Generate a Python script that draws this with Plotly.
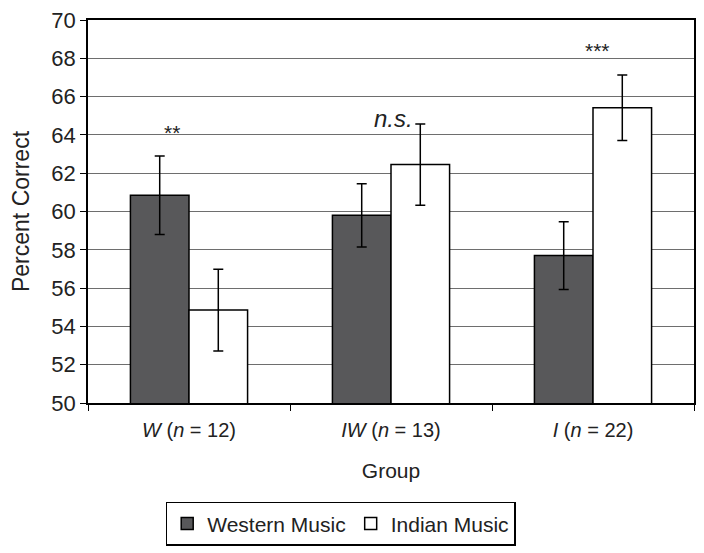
import plotly.graph_objects as go

groups = ['<i>W</i> (<i>n</i> = 12)', '<i>IW</i> (<i>n</i> = 13)', '<i>I</i> (<i>n</i> = 22)']
western = [60.85, 59.8, 57.7]
western_err = [2.05, 1.65, 1.77]
indian = [54.85, 62.45, 65.42]
indian_err = [2.13, 2.12, 1.71]
sig_labels = ['**', '<i>n.s.</i>', '***']
sig_y = [64.1, 64.85, 68.4]
sig_x_shift = [-17, 2, 4]   # nudges in px relative to group centre

font = 'Liberation Sans, Arial, sans-serif'

fig = go.Figure()
fig.add_trace(go.Bar(x=groups, y=western, name='Western Music',
                     marker=dict(color='#58585a', line=dict(color='black', width=1.5)),
                     error_y=dict(type='data', array=western_err, color='black', thickness=1.5, width=5)))
fig.add_trace(go.Bar(x=groups, y=indian, name='Indian Music',
                     marker=dict(color='white', line=dict(color='black', width=1.5)),
                     error_y=dict(type='data', array=indian_err, color='black', thickness=1.5, width=5)))

for g, lab, yy, sx in zip(groups, sig_labels, sig_y, sig_x_shift):
    fig.add_annotation(x=g, y=yy, text=lab, showarrow=False, xshift=sx,
                       font=dict(size=21 if '*' in lab else 24, color='#222'))

# page body adds 8px offset, so margins are trimmed to compensate
fig.update_layout(
    width=704, height=553,
    margin=dict(l=80, r=18, t=12, b=158),
    barmode='group', bargap=0.42, bargroupgap=0,
    plot_bgcolor='white', paper_bgcolor='white',
    font=dict(family=font, size=20, color='#222'),
    showlegend=True,
    legend=dict(orientation='h', x=0.417, xanchor='center', y=-0.258, yanchor='top',
                bordercolor='black', borderwidth=1.5, font=dict(size=21),
                itemwidth=30, traceorder='normal'),
)
fig.update_xaxes(showline=True, linecolor='black', linewidth=1.5, mirror=True, automargin=False,
                 ticks='outside', tickson='boundaries', ticklen=6, tickcolor='black',
                 ticklabelstandoff=8,
                 title=dict(text='Group', font=dict(size=21), standoff=24))
fig.update_yaxes(range=[50, 70], dtick=2, showline=True, linecolor='black', linewidth=1.5,
                 mirror=True, ticks='outside', ticklen=6, tickcolor='black', automargin=False,
                 ticklabeloverflow='allow',
                 showgrid=True, gridcolor='#6e6e6e', gridwidth=1,
                 tickfont=dict(size=22),
                 title=dict(text='Percent Correct', font=dict(size=23), standoff=21))

fig.write_html("out.html")
